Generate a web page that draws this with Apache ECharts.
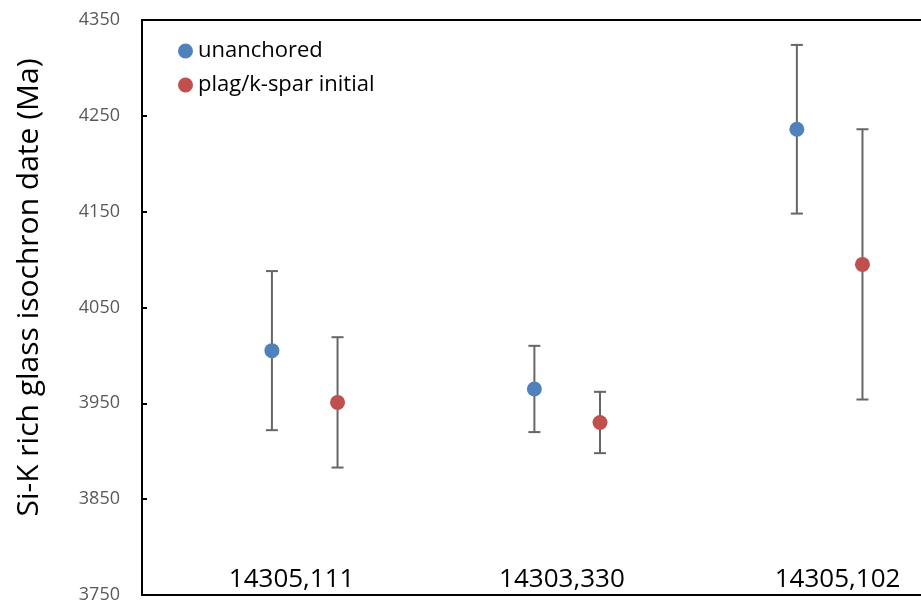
<!DOCTYPE html>
<html>
<head>
<meta charset="utf-8">
<script src="https://cdn.jsdelivr.net/npm/echarts@6/dist/echarts.min.js"></script>
<style>
  html, body { margin: 0; padding: 0; background: #fff; }
  #chart { width: 921px; height: 604px; }
</style>
</head>
<body>
<div id="chart"></div>
<script>
// samples and isochron dates (Ma) with 1-sided error
const samples = ['14305,111', '14303,330', '14305,102'];
const unanchored = [4005, 3965, 4236];
const unanchoredErr = [83, 45, 88];
const plagInitial = [3951, 3930, 4095];
const plagErr = [68, 32, 141];

const blue = '#4F81BD';
const red = '#C0504D';

const chart = echarts.init(document.getElementById('chart'));

// x position of each point: sample index with a small offset per series
function pts(vals, offset) {
  return vals.map((v, i) => [i + 1 + offset, v]);
}
function bars(vals, errs, offset) {
  return vals.map((v, i) => [i + 1 + offset, v - errs[i], v + errs[i]]);
}

function renderErr(params, api) {
  const x = api.value(0);
  const lo = api.coord([x, api.value(1)]);
  const hi = api.coord([x, api.value(2)]);
  const cap = 6;
  const style = { stroke: '#666', lineWidth: 2 };
  return {
    type: 'group',
    children: [
      { type: 'line', shape: { x1: lo[0], y1: lo[1], x2: hi[0], y2: hi[1] }, style: style },
      { type: 'line', shape: { x1: lo[0] - cap, y1: lo[1], x2: lo[0] + cap, y2: lo[1] }, style: style },
      { type: 'line', shape: { x1: hi[0] - cap, y1: hi[1], x2: hi[0] + cap, y2: hi[1] }, style: style }
    ]
  };
}

const option = {
  animation: false,
  textStyle: { fontFamily: 'Open Sans' },
  grid: {
    left: 142,
    top: 20,
    bottom: 7,
    right: 0,
    containLabel: false
  },
  legend: {
    orient: 'vertical',
    left: 173,
    top: 35,
    itemGap: 12,
    itemWidth: 15,
    itemHeight: 15,
    icon: 'circle',
    data: ['unanchored', 'plag/k-spar initial'],
    textStyle: { fontSize: 22, color: '#000', lineHeight: 22, fontFamily: 'Open Sans' }
  },
  xAxis: [{
    type: 'value',
    min: 0.38,
    max: 3.348,
    splitLine: { show: false },
    axisTick: { show: false },
    axisLine: { show: true, lineStyle: { color: '#000', width: 2 } },
    axisLabel: {
      inside: true,
      margin: 2,
      // sample labels sit a little off the group centres
      customValues: [0.95, 1.98, 3.03],
      formatter: v => samples[Math.round(v) - 1] || '',
      fontSize: 26,
      color: '#000',
      fontFamily: 'Open Sans'
    }
  }, {
    // top frame line only
    type: 'value',
    position: 'top',
    min: 0.38,
    max: 3.348,
    splitLine: { show: false },
    axisTick: { show: false },
    axisLabel: { show: false },
    axisLine: { show: true, lineStyle: { color: '#000', width: 2 } }
  }],
  yAxis: {
    type: 'value',
    min: 3750,
    max: 4350,
    interval: 100,
    name: 'Si-K rich glass isochron date (Ma)',
    nameLocation: 'middle',
    nameGap: 98,
    nameTextStyle: {
      fontSize: 30,
      color: '#000',
      fontFamily: 'Open Sans',
      padding: [0, 0, 0, 40]
    },
    splitLine: { show: false },
    axisLine: { show: true, lineStyle: { color: '#000', width: 2 } },
    axisTick: { show: true, inside: true, length: 5, lineStyle: { color: '#000', width: 2 } },
    axisLabel: {
      fontSize: 18,
      color: '#595959',
      margin: 22,
      fontFamily: 'Open Sans',
      formatter: v => String(v)
    }
  },
  series: [
    {
      type: 'custom',
      renderItem: renderErr,
      data: bars(unanchored, unanchoredErr, -0.125),
      z: 1
    },
    {
      type: 'custom',
      renderItem: renderErr,
      data: bars(plagInitial, plagErr, 0.125),
      z: 1
    },
    {
      name: 'unanchored',
      type: 'scatter',
      symbol: 'circle',
      symbolSize: 15,
      itemStyle: { color: blue, opacity: 1 },
      data: pts(unanchored, -0.125),
      z: 3
    },
    {
      name: 'plag/k-spar initial',
      type: 'scatter',
      symbol: 'circle',
      symbolSize: 15,
      itemStyle: { color: red, opacity: 1 },
      data: pts(plagInitial, 0.125),
      z: 3
    }
  ]
};

chart.setOption(option);
window.addEventListener('resize', function () {
  chart.resize();
});
</script>
</body>
</html>
